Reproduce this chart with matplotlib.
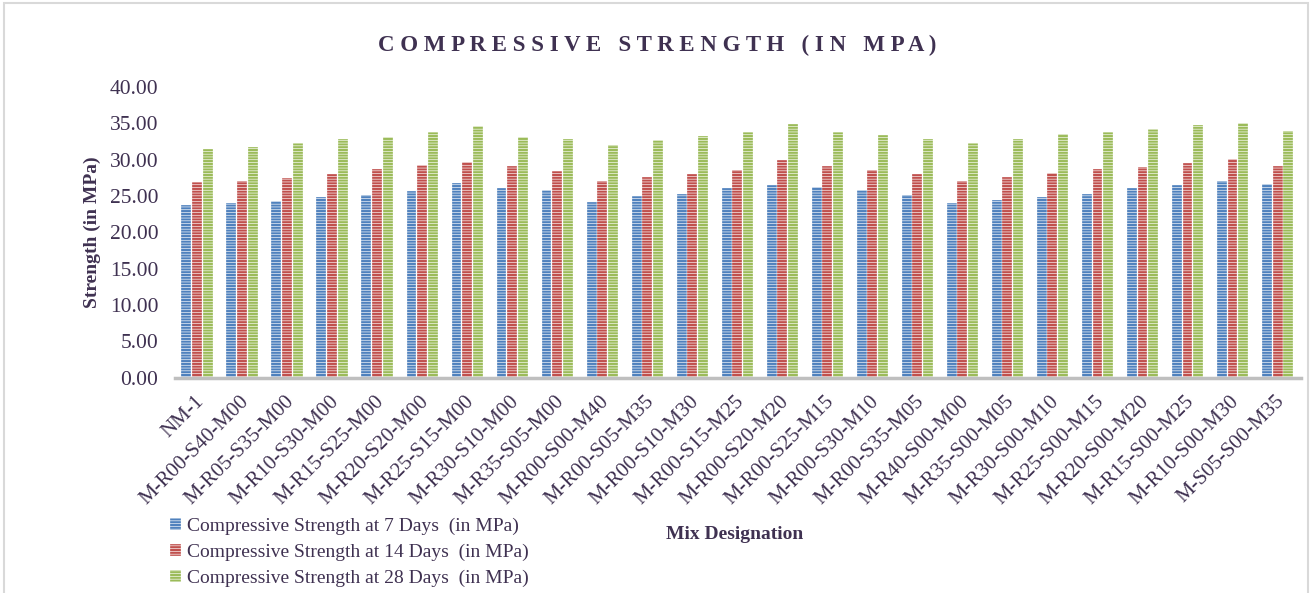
import numpy as np
import matplotlib
matplotlib.use("Agg")
import matplotlib.pyplot as plt
import matplotlib.transforms as mtransforms
from matplotlib.patches import Rectangle

plt.rcParams['font.family'] = ['Liberation Serif', 'DejaVu Serif']
plt.rcParams['hatch.linewidth'] = 0.45

mixes = ["NM-1", "M-R00-S40-M00", "M-R05-S35-M00", "M-R10-S30-M00", "M-R15-S25-M00",
         "M-R20-S20-M00", "M-R25-S15-M00", "M-R30-S10-M00", "M-R35-S05-M00",
         "M-R00-S00-M40", "M-R00-S05-M35", "M-R00-S10-M30", "M-R00-S15-M25",
         "M-R00-S20-M20", "M-R00-S25-M15", "M-R00-S30-M10", "M-R00-S35-M05",
         "M-R40-S00-M00", "M-R35-S00-M05", "M-R30-S00-M10", "M-R25-S00-M15",
         "M-R20-S00-M20", "M-R15-S00-M25", "M-R10-S00-M30", "M-S05-S00-M35"]

days7 = [23.8, 24.0, 24.3, 24.9, 25.2, 25.7, 26.8, 26.1, 25.8,
         24.2, 25.0, 25.3, 26.1, 26.5, 26.2, 25.85, 25.1,
         24.0, 24.4, 24.9, 25.3, 26.1, 26.5, 27.1, 26.7]
days14 = [27.0, 27.05, 27.5, 28.0, 28.7, 29.3, 29.7, 29.2, 28.5,
          27.1, 27.7, 28.1, 28.6, 30.0, 29.1, 28.6, 28.1,
          27.1, 27.7, 28.2, 28.8, 29.0, 29.6, 30.1, 29.2]
days28 = [31.5, 31.8, 32.3, 32.9, 33.2, 33.8, 34.6, 33.1, 32.8,
          32.0, 32.7, 33.3, 33.8, 34.9, 33.8, 33.4, 32.8,
          32.3, 32.9, 33.6, 33.8, 34.2, 34.85, 35.1, 34.0]

series = [
    ("Compressive Strength at 7 Days  (in MPa)", days7, "#4f81bd"),
    ("Compressive Strength at 14 Days  (in MPa)", days14, "#c0504d"),
    ("Compressive Strength at 28 Days  (in MPa)", days28, "#9bbb59"),
]

txt = "#3f3151"

fig = plt.figure(figsize=(13.15, 5.93), dpi=100)
ax = fig.add_axes([0.133, 0.363, 0.856, 0.49])

x = np.arange(len(mixes))
w = 0.22
handles = []
for i, (name, vals, col) in enumerate(series):
    b = ax.bar(x + (i - 1) * 0.236, vals, w, color=col, edgecolor="white",
               linewidth=0.2, hatch="------", label=name)
    handles.append(b)

ax.set_xlim(-0.49, 24.51)
ax.set_ylim(0, 40)
ax.set_yticks(np.arange(0, 40.1, 5))
ax.set_yticklabels(["%.2f" % v for v in np.arange(0, 40.1, 5)], fontsize=15.5, color=txt)
ax.tick_params(length=0)
ax.tick_params(axis='y', pad=12)
ax.set_xticks(x)
ax.set_xticklabels(mixes, rotation=45, ha="right", va="center",
                   rotation_mode="anchor", fontsize=15, color=txt)
offset = mtransforms.ScaledTranslation(0.04, -0.16, fig.dpi_scale_trans)
for lab in ax.get_xticklabels():
    lab.set_transform(lab.get_transform() + offset)

for s in ["top", "right", "left"]:
    ax.spines[s].set_visible(False)
ax.spines["bottom"].set_color("#bfbfbf")
ax.spines["bottom"].set_linewidth(2.5)

ax.set_ylabel("Strength (in MPa)", fontsize=14, fontweight="bold", color=txt, labelpad=6)

fig.text(0.5, 0.924, "C O M P R E S S I V E   S T R E N G T H   ( I N   M P A )",
         ha="center", va="center", fontsize=16.5, fontweight="bold", color=txt)
fig.text(0.559, 0.099, "Mix Designation", ha="center", va="center",
         fontsize=14, fontweight="bold", color=txt)

leg = fig.legend(handles=handles, loc="upper left", bbox_to_anchor=(0.123, 0.14),
                 frameon=False, fontsize=14, handlelength=0.6, handleheight=0.6,
                 handletextpad=0.3, labelspacing=0.45, borderaxespad=0)
for t in leg.get_texts():
    t.set_color(txt)

fig.patches.append(Rectangle((0.003, -0.05), 0.992, 1.045, transform=fig.transFigure,
                             fill=False, edgecolor="#d9d9d9", linewidth=1.5))

fig.savefig("out.png", dpi=100)
